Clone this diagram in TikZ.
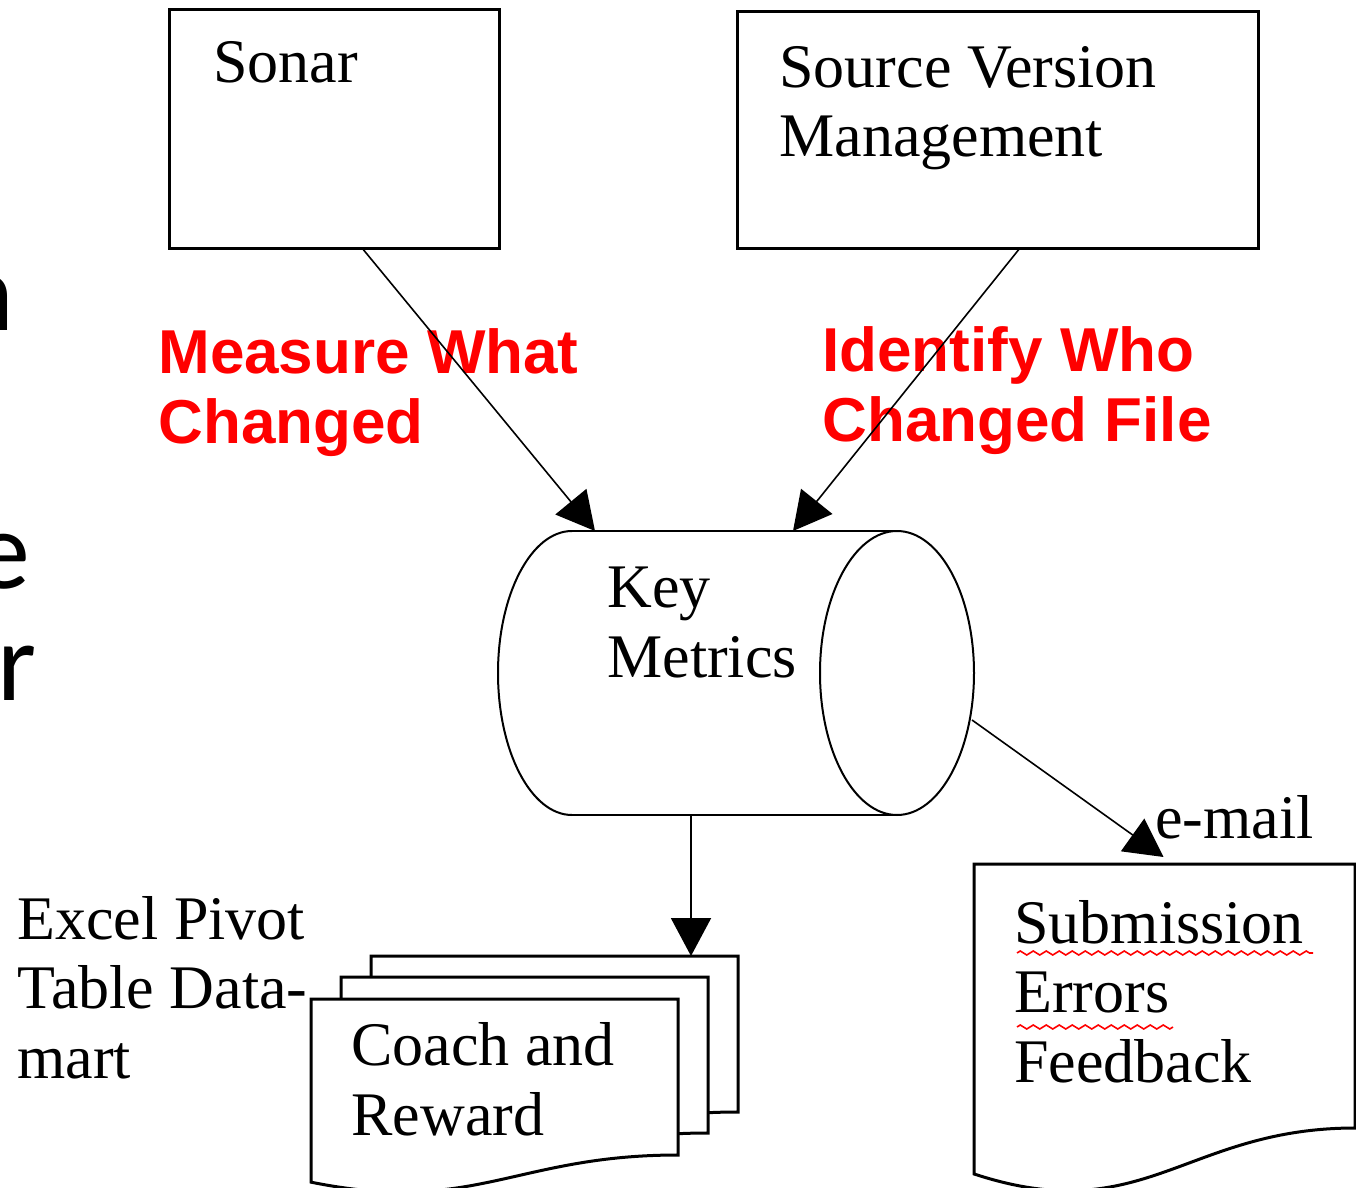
\documentclass[tikz,border=0pt]{standalone}
\usepackage{fontspec}
\setmainfont{Liberation Serif}
\newfontfamily\labelfont{Liberation Sans}
\newfontfamily\slidefont{Carlito}
\usetikzlibrary{arrows.meta,calc,decorations.pathmorphing}

% page with a wavy bottom edge, drawn on an empty node
\newcommand\docshape[1]{%
  \draw[docline] let \p1=(#1.north west), \p2=(#1.south east),
      \n1={\x2-\x1}, \n2={\y1-\y2} in
    (\x1,\y1) -- (\x2,\y1) -- (\x2,\y2)
    .. controls (\x2-0.446*\n1,\y2) and (\x1+0.446*\n1,\y2-0.386*\n2) ..
    (\x1,\y2-0.174*\n2) -- cycle;}

\begin{document}
\begin{tikzpicture}[x=0.5pt, y=0.5pt,
  >={Triangle[length=19pt,width=20pt]},
  hidden/.style={rectangle, draw=none, inner sep=0pt, outer sep=0pt},
  box/.style={hidden, draw, line width=1.5pt},
  txt/.style={inner sep=0pt, anchor=base west, align=left,
    font=\fontsize{31}{34.75}\selectfont},
  redlbl/.style={inner sep=0pt, anchor=base west, align=left, text=red,
    font=\labelfont\bfseries\fontsize{31}{35}\selectfont},
  slide/.style={inner sep=0pt, anchor=base east,
    font=\slidefont\fontsize{56}{60}\selectfont},
  docline/.style={draw, fill=white, line width=1.5pt},
  cyl/.style={line width=1pt},
  link/.style={->, line width=0.8pt},
  spellwave/.style={red, line width=0.8pt, decorate,
    decoration={zigzag, segment length=6.5pt, amplitude=1pt}}]

  \useasboundingbox (0,0) rectangle (1356,-1188);

  % bits of the slide text behind
  \node[slide] (fragn) at (15,-330) {n};
  \node[slide] (frage) at (31,-588) {e};
  \node[slide] (fragr) at (37,-700) {r};

  % sources (base anchor sits on the last line)
  \node[box, minimum width=165pt, minimum height=119pt] (sonar) at (334,-129) {};
  \node[box, minimum width=260.5pt, minimum height=118pt] (svm) at (997.5,-130) {};
  \node[txt] (sonartxt) at ([shift={(44,-73)}]sonar.north west) {Sonar};
  \node[txt] (svmtxt) at ([shift={(42,-145)}]svm.north west) {Source Version\\Management};

  % key metrics store
  \node[hidden, minimum width=238pt, minimum height=142pt] (metrics) at (736,-673) {};
  \draw[cyl] ([shift={(74,0)}]metrics.north west) -- ([shift={(-77,0)}]metrics.north east)
             ([shift={(74,0)}]metrics.south west) -- ([shift={(-77,0)}]metrics.south east);
  \draw[cyl] ([shift={(74,0)}]metrics.north west)
             arc[start angle=90, end angle=270, x radius=74, y radius=142];
  \draw[cyl] ([shift={(-77,0)}]metrics.east) ellipse [x radius=77, y radius=142];
  \node[txt] (metricstxt) at ([shift={(109,-146)}]metrics.north west) {Key\\Metrics};

  % reports
  \node[hidden, minimum width=183.5pt, minimum height=78pt] (coachback) at (554.5,-1034) {};
  \node[hidden, minimum width=183.5pt, minimum height=78pt] (coachmid) at (524.5,-1055) {};
  \node[hidden, minimum width=183.5pt, minimum height=78pt] (coach) at (494.5,-1077) {};
  \node[hidden, minimum width=190.5pt, minimum height=132pt] (subm) at (1164.5,-996) {};
  \docshape{coachback}
  \docshape{coachmid}
  \docshape{coach}
  \docshape{subm}
  \node[txt] (coachtxt) at ([shift={(40,-136)}]coach.north west) {Coach and\\Reward};
  \node[txt] (submtxt) at ([shift={(40,-218)}]subm.north west) {Submission\\Errors\\Feedback};
  \draw[spellwave] (1017,-953) -- (1313,-953);
  \draw[spellwave] (1017,-1027) -- (1173,-1027);

  \node[txt] (pivot) at (17,-1078) {Excel Pivot\\Table Data-\\mart};

  % labels
  \node[redlbl] (measurelbl) at (158,-443) {Measure What\\Changed};
  \node[redlbl] (identifylbl) at (822,-441) {Identify Who\\Changed File};
  \node[txt] (emaillbl) at (1155,-838) {e-mail};

  % links
  \draw[link] ([shift={(28,0)}]sonar.south) -- ([shift={(-141,0)}]metrics.north);
  \draw[link] ([shift={(22.5,0)}]svm.south) -- ([shift={(57,0)}]metrics.north);
  \draw[link, line width=1pt] ([shift={(-45,0)}]metrics.south) -- ([shift={(136.5,0)}]coachback.north);
  \draw[link] ([shift={(-2,-47)}]metrics.east) -- ([shift={(-1,7)}]subm.north);

\end{tikzpicture}
\end{document}
